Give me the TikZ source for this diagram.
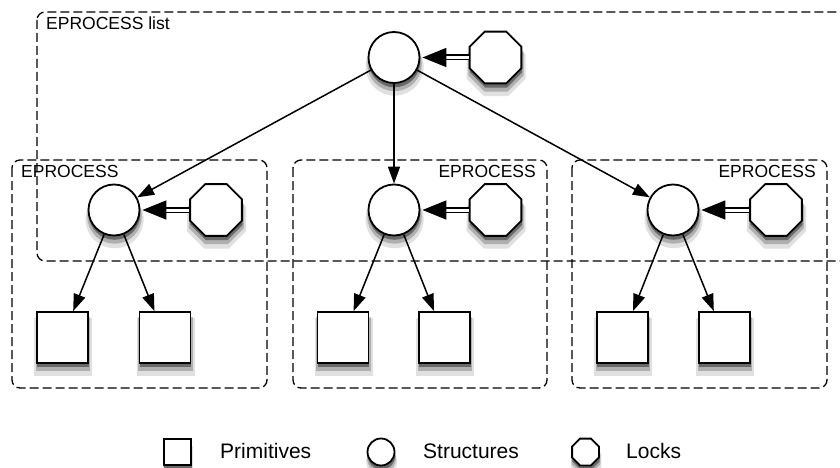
\documentclass[tikz,border=0pt]{standalone}
\usepackage{fontspec}
\setmainfont{Liberation Sans}
\usetikzlibrary{shapes.geometric,arrows.meta,shadows}
\tikzset{
  soft/.style={
    general shadow={fill=black, opacity=0.12, shadow xshift=0.5pt, shadow yshift=-8pt, shadow scale=1.14},
    general shadow={fill=black, opacity=0.22, shadow xshift=0.5pt, shadow yshift=-6pt, shadow scale=1.07},
    general shadow={fill=black, opacity=0.40, shadow xshift=0.5pt, shadow yshift=-4pt, shadow scale=1.01}},
  structure/.style={circle, draw, line width=1.8pt, fill=white, inner sep=0pt, minimum size=51pt, soft},
  lock/.style={regular polygon, regular polygon sides=8, draw, line width=1.8pt, fill=white, inner sep=0pt, minimum size=56pt, soft},
  primitive/.style={rectangle, draw, line width=1.8pt, fill=white, inner sep=0pt, minimum width=51pt, minimum height=51pt, soft},
  group/.style={draw, line width=1.3pt, dash pattern=on 9pt off 4pt, rounded corners=8pt},
  tag/.style={inner sep=0pt, font=\fontsize{17.5}{20}\selectfont},
  key/.style={inner sep=0pt, anchor=west, font=\fontsize{21}{24}\selectfont},
  link/.style={line width=1.5pt, -{Triangle[length=17pt,width=12pt]}},
  hold/.style={line width=1.5pt, double, double distance=3pt, -{Triangle[length=24pt,width=19pt]}, shorten >=2pt}
}

\begin{document}
\begin{tikzpicture}[x=1pt, y=-1pt]
    \useasboundingbox (0,0) rectangle (840,468);

    % dashed groups
    \draw[group] (37,12) rectangle (860,261);
    \draw[group] (12,160) rectangle (267,388);
    \draw[group] (293,160) rectangle (547,388);
    \draw[group] (572,160) rectangle (827,388);

    \node[tag, anchor=west] (t0) at (46,23) {EPROCESS list};
    \node[tag, anchor=west] (t1) at (21,171) {EPROCESS};
    \node[tag, anchor=east] (t2) at (536,171) {EPROCESS};
    \node[tag, anchor=east] (t3) at (816,171) {EPROCESS};

    % list head
    \node[structure] (s0) at (394,57.5) {};
    \node[lock] (k0) at (495.5,57.5) {};

    % first EPROCESS
    \node[structure] (s1) at (114,210) {};
    \node[lock] (k1) at (216,210) {};
    \node[primitive] (p11) at (62.5,337.5) {};
    \node[primitive] (p12) at (165,337.5) {};

    % second EPROCESS
    \node[structure] (s2) at (394,210) {};
    \node[lock] (k2) at (495.5,210) {};
    \node[primitive] (p21) at (343,337.5) {};
    \node[primitive] (p22) at (444.5,337.5) {};

    % third EPROCESS
    \node[structure] (s3) at (673,210) {};
    \node[lock] (k3) at (776,210) {};
    \node[primitive] (p31) at (622.5,337.5) {};
    \node[primitive] (p32) at (724.5,337.5) {};

    \draw[hold] (k0) -- (s0);
    \draw[hold] (k1) -- (s1);
    \draw[hold] (k2) -- (s2);
    \draw[hold] (k3) -- (s3);

    \draw[link] (s0) -- (s1);
    \draw[link] (s0) -- (s2);
    \draw[link] (s0) -- (s3);

    \draw[link] (s1) -- (p11);
    \draw[link] (s1) -- (p12);
    \draw[link] (s2) -- (p21);
    \draw[link] (s2) -- (p22);
    \draw[link] (s3) -- (p31);
    \draw[link] (s3) -- (p32);

    % legend
    \node[primitive, minimum width=27pt, minimum height=26pt] (ls) at (177.5,452) {};
    \node[key] (lt1) at (220,451) {Primitives};
    \node[structure, minimum size=27pt] (lc) at (381,452) {};
    \node[key] (lt2) at (423,451) {Structures};
    \node[lock, minimum size=29pt] (lo) at (585.5,452) {};
    \node[key] (lt3) at (626,451) {Locks};
\end{tikzpicture}
\end{document}
